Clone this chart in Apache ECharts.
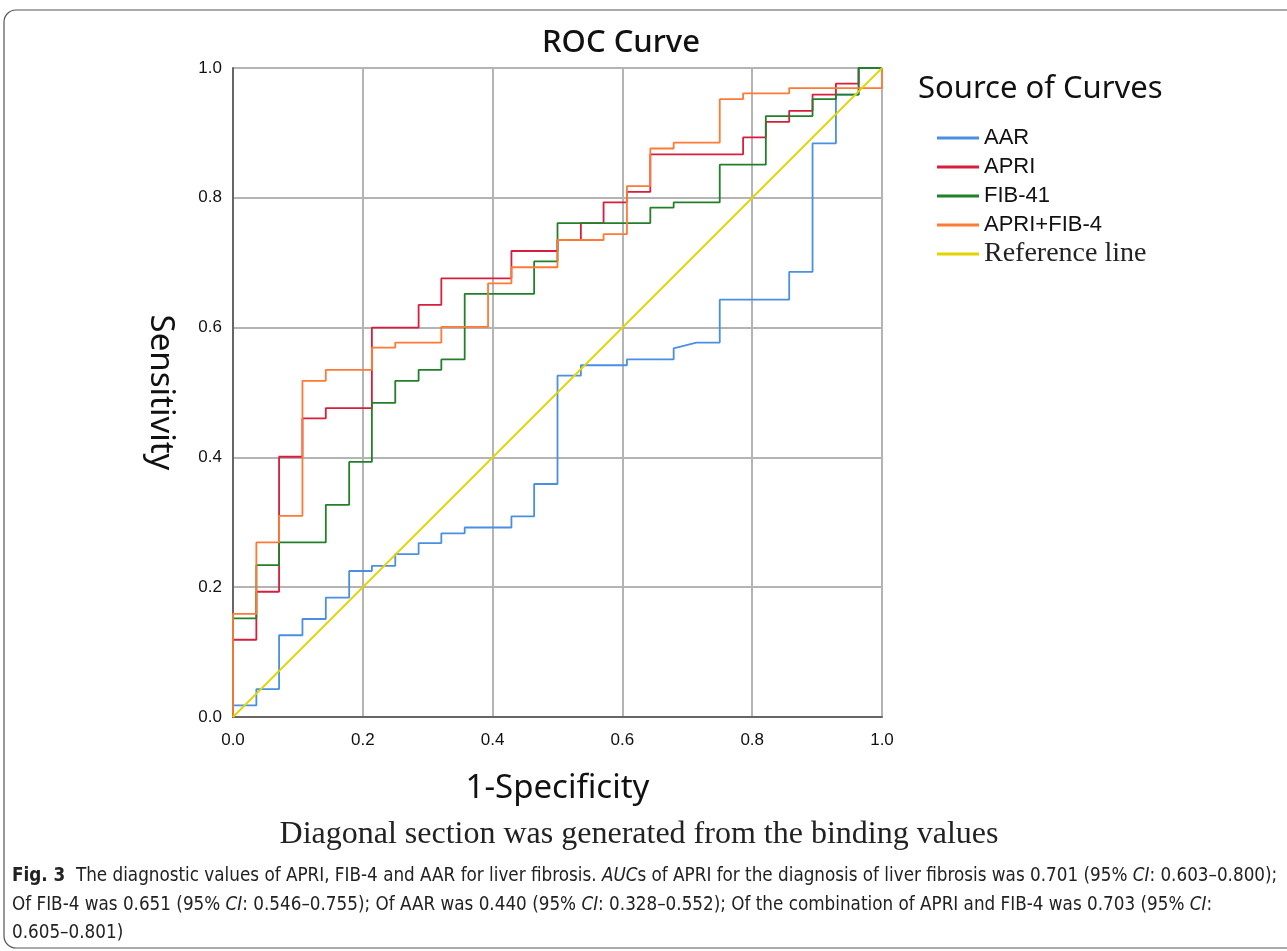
<!DOCTYPE html>
<html>
<head>
<meta charset="utf-8">
<script src="https://cdn.jsdelivr.net/npm/echarts@6/dist/echarts.min.js"></script>
<style>html,body{margin:0;padding:0;background:#fff;}#chart{width:1287px;height:951px;}</style>
</head>
<body>
<div id="chart"></div>
<script>
// ROC curve vertices: [1-Specificity, Sensitivity]
const AAR = [[0,0],[0,0.018],[0.036,0.018],[0.036,0.043],[0.071,0.043],[0.071,0.126],[0.107,0.126],[0.107,0.151],[0.143,0.151],[0.143,0.184],[0.179,0.184],[0.179,0.225],[0.214,0.225],[0.214,0.233],[0.25,0.233],[0.25,0.251],[0.286,0.251],[0.286,0.268],[0.321,0.268],[0.321,0.283],[0.357,0.283],[0.357,0.292],[0.429,0.292],[0.429,0.309],[0.464,0.309],[0.464,0.359],[0.5,0.359],[0.5,0.526],[0.536,0.526],[0.536,0.542],[0.607,0.542],[0.607,0.551],[0.679,0.551],[0.679,0.568],[0.714,0.577],[0.75,0.577],[0.75,0.643],[0.857,0.643],[0.857,0.686],[0.893,0.686],[0.893,0.884],[0.929,0.884],[0.929,0.959],[0.964,0.959],[0.964,1],[1,1]];
const APRI = [[0,0],[0,0.119],[0.036,0.119],[0.036,0.193],[0.071,0.193],[0.071,0.401],[0.107,0.401],[0.107,0.460],[0.143,0.460],[0.143,0.476],[0.214,0.476],[0.214,0.600],[0.286,0.600],[0.286,0.635],[0.321,0.635],[0.321,0.676],[0.429,0.676],[0.429,0.718],[0.5,0.718],[0.5,0.735],[0.536,0.735],[0.536,0.761],[0.571,0.761],[0.571,0.793],[0.607,0.793],[0.607,0.809],[0.643,0.809],[0.643,0.867],[0.786,0.867],[0.786,0.893],[0.821,0.893],[0.821,0.917],[0.857,0.917],[0.857,0.934],[0.893,0.934],[0.893,0.959],[0.929,0.959],[0.929,0.976],[0.964,0.976],[0.964,1],[1,1]];
const FIB41 = [[0,0],[0,0.152],[0.036,0.152],[0.036,0.234],[0.071,0.234],[0.071,0.269],[0.143,0.269],[0.143,0.327],[0.179,0.327],[0.179,0.393],[0.214,0.393],[0.214,0.484],[0.25,0.484],[0.25,0.518],[0.286,0.518],[0.286,0.535],[0.321,0.535],[0.321,0.551],[0.357,0.551],[0.357,0.652],[0.464,0.652],[0.464,0.702],[0.5,0.702],[0.5,0.761],[0.643,0.761],[0.643,0.785],[0.679,0.785],[0.679,0.793],[0.75,0.793],[0.75,0.851],[0.821,0.851],[0.821,0.926],[0.893,0.926],[0.893,0.952],[0.929,0.952],[0.929,0.959],[0.964,0.959],[0.964,1],[1,1]];
const APRI_FIB4 = [[0,0],[0,0.159],[0.036,0.159],[0.036,0.269],[0.071,0.269],[0.071,0.310],[0.107,0.310],[0.107,0.518],[0.143,0.518],[0.143,0.535],[0.214,0.535],[0.214,0.569],[0.25,0.569],[0.25,0.577],[0.321,0.577],[0.321,0.601],[0.393,0.601],[0.393,0.668],[0.429,0.668],[0.429,0.693],[0.5,0.693],[0.5,0.735],[0.571,0.735],[0.571,0.744],[0.607,0.744],[0.607,0.818],[0.643,0.818],[0.643,0.876],[0.679,0.876],[0.679,0.885],[0.75,0.885],[0.75,0.952],[0.786,0.952],[0.786,0.961],[0.857,0.961],[0.857,0.969],[1,0.969],[1,1]];
const REFERENCE = [[0,0],[1,1]];
const seriesNames = ['AAR','APRI','FIB-41','APRI+FIB-4','Reference line'];
const seriesColors = ['#4a90e2','#d81e3c','#23802a','#ff7a35','#e2d400'];
const seriesData = [AAR, APRI, FIB41, APRI_FIB4, REFERENCE];

const chart = echarts.init(document.getElementById('chart'), null, {renderer:'canvas'});
const series = seriesNames.map((n,i)=>({
  name:n, type:'line', data:seriesData[i], showSymbol:false, symbol:'none',
  lineStyle:{color:seriesColors[i], width:1.8}, itemStyle:{color:seriesColors[i]},
  animation:false, z: 3+i
}));
const sansUI = "'Noto Sans', 'Open Sans', sans-serif";
const capFont = "'Liberation Sans Narrow', 'DejaVu Sans Condensed', sans-serif";
chart.setOption({
  animation:false,
  backgroundColor:'#fff',
  title:{text:'ROC Curve', left:616, top:23, textAlign:'center',
    textStyle:{fontFamily:sansUI, fontSize:31, fontWeight:500, color:'#111'}},
  grid:{left:233, right:405, top:68, bottom:234, containLabel:false},
  xAxis:{type:'value', min:0, max:1, interval:0.2,
    name:'1-Specificity', nameLocation:'middle', nameGap:55,
    nameTextStyle:{fontFamily:sansUI, fontSize:33, color:'#111'},
    axisLine:{show:true, lineStyle:{color:'#666', width:2}},
    axisTick:{show:false},
    axisLabel:{margin:15, fontFamily:"'Liberation Sans', Arial, sans-serif", fontSize:17, color:'#111', formatter:v=>v.toFixed(1)},
    splitLine:{show:true, lineStyle:{color:'#b4b4b4', width:2}}},
  yAxis:{type:'value', min:0, max:1, interval:0.2,
    name:'Sensitivity', nameLocation:'middle', nameGap:56, nameRotate:-90,
    nameTextStyle:{fontFamily:sansUI, fontSize:33, color:'#111'},
    axisLine:{show:true, lineStyle:{color:'#666', width:2}},
    axisTick:{show:false},
    axisLabel:{margin:11, fontFamily:"'Liberation Sans', Arial, sans-serif", fontSize:17, color:'#111', formatter:v=>v.toFixed(1)},
    splitLine:{show:true, lineStyle:{color:'#b4b4b4', width:2}}},
  legend:[
    {orient:'vertical', left:932, top:122, itemWidth:42, itemHeight:3, itemGap:7, icon:'rect',
     data:seriesNames.slice(0,4),
     textStyle:{fontFamily:"'Liberation Sans', Arial, sans-serif", fontSize:22, color:'#111', lineHeight:22}},
    {orient:'vertical', left:932, top:235, itemWidth:42, itemHeight:3, icon:'rect',
     data:[seriesNames[4]],
     textStyle:{fontFamily:"'Liberation Serif', 'Times New Roman', serif", fontSize:28, color:'#222', lineHeight:28}}
  ],
  series:series,
  graphic:[
    {type:'rect', shape:{x:4, y:10, width:1320, height:938, r:12}, style:{fill:null, stroke:'#555', lineWidth:1.2}, silent:true},
    {type:'text', x:918, y:89, style:{text:'Source of Curves', font:"31px 'Noto Sans', 'Open Sans', sans-serif", fill:'#111', textVerticalAlign:'middle'}},
    {type:'text', x:639, y:835, style:{text:'Diagonal section was generated from the binding values', font:"32px 'Liberation Serif', serif", fill:'#222', textAlign:'center', textVerticalAlign:'middle'}},
    {type:'text', x:12, y:876, style:{
      text:'{b|Fig. 3}  The diagnostic values of APRI, FIB-4 and AAR for liver fibrosis. {i|AUC}s of APRI for the diagnosis of liver fibrosis was 0.701 (95% {i|CI}: 0.603–0.800);',
      font:"18.7px " + capFont, fill:'#222', textVerticalAlign:'middle',
      rich:{b:{fontWeight:'bold', fontSize:18.7, fontFamily:capFont, fill:'#222'}, i:{fontStyle:'italic', fontSize:18.7, fontFamily:capFont, fill:'#222'}}}},
    {type:'text', x:12, y:905, style:{
      text:'Of FIB-4 was 0.651 (95% {i|CI}: 0.546–0.755); Of AAR was 0.440 (95% {i|CI}: 0.328–0.552); Of the combination of APRI and FIB-4 was 0.703 (95% {i|CI}:',
      font:"18.7px " + capFont, fill:'#222', textVerticalAlign:'middle',
      rich:{i:{fontStyle:'italic', fontSize:18.7, fontFamily:capFont, fill:'#222'}}}},
    {type:'text', x:12, y:933, style:{
      text:'0.605–0.801)',
      font:"18.7px " + capFont, fill:'#222', textVerticalAlign:'middle'}}
  ]
});
</script>
</body>
</html>
